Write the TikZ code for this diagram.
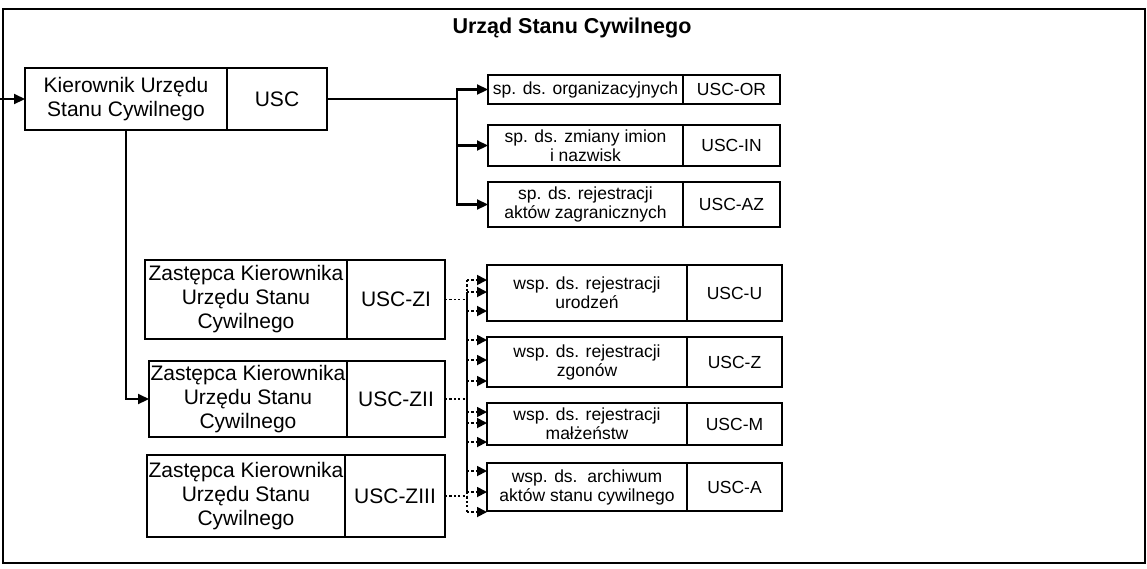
\documentclass[tikz,border=0pt]{standalone}
\usepackage{fontspec}
\setmainfont{Liberation Sans}
\usetikzlibrary{arrows.meta,calc}
\tikzset{
 box/.style={draw, line width=1.3pt, inner sep=0pt, outer sep=0pt, align=center},
 big/.style={font=\fontsize{21}{24}\selectfont},
 small/.style={font=\fontsize{17.5}{19}\selectfont},
 conn/.style={line width=2.2pt},
 sarr/.style={conn, -{Triangle[length=11pt,width=10pt]}},
 dconn/.style={line width=1.8pt, dash pattern=on 2.2pt off 2.2pt},
 darr/.style={dconn, -{Triangle[length=10pt,width=10pt]}},
}
\begin{document}
\begin{tikzpicture}[x=1pt,y=-1pt]
\useasboundingbox (0,0) rectangle (1147,568);
\node[draw, line width=1.4pt, minimum width=1142pt, minimum height=554pt, inner sep=0pt] (frame) at (574,286) {};
\node[font=\bfseries\fontsize{21.5}{24}\selectfont] (title) at (572,28) {Urząd Stanu Cywilnego};

% Kierownik
\node[box,big,minimum width=202pt,minimum height=62pt] (K1) at (126,99) {Kierownik Urzędu\\Stanu Cywilnego};
\node[box,big,minimum width=100pt,minimum height=62pt] (K2) at (277,99) {USC};

% sp boxes
\node[box,small,minimum width=195pt,minimum height=29pt] (OR1) at (585.5,89.5) {sp. ds. organizacyjnych};
\node[box,small,minimum width=97pt,minimum height=29pt] (OR2) at (731.5,89.5) {USC-OR};
\node[box,small,minimum width=195pt,minimum height=41pt] (IN1) at (585.5,145.5) {sp. ds. zmiany imion\\i nazwisk};
\node[box,small,minimum width=97pt,minimum height=41pt] (IN2) at (731.5,145.5) {USC-IN};
\node[box,small,minimum width=195pt,minimum height=45pt] (AZ1) at (585.5,204.5) {sp. ds. rejestracji\\aktów zagranicznych};
\node[box,small,minimum width=97pt,minimum height=45pt] (AZ2) at (731.5,204.5) {USC-AZ};

% Zastepcy
\node[box,big,minimum width=202pt,minimum height=79pt] (ZI1) at (246,299.5) {Zastępca Kierownika\\Urzędu Stanu\\Cywilnego};
\node[box,big,minimum width=98pt,minimum height=79pt] (ZI2) at (396,299.5) {USC-ZI};
\node[box,big,minimum width=198pt,minimum height=76pt] (ZII1) at (248,399) {Zastępca Kierownika\\Urzędu Stanu\\Cywilnego};
\node[box,big,minimum width=98pt,minimum height=76pt] (ZII2) at (396,399) {USC-ZII};
\node[box,big,minimum width=198pt,minimum height=82pt] (ZIII1) at (246,496) {Zastępca Kierownika\\Urzędu Stanu\\Cywilnego};
\node[box,big,minimum width=100pt,minimum height=82pt] (ZIII2) at (395,496) {USC-ZIII};

% wsp boxes
\node[box,small,minimum width=200pt,minimum height=56pt] (U1) at (587,293) {wsp. ds. rejestracji\\urodzeń};
\node[box,small,minimum width=95pt,minimum height=56pt] (U2) at (734.5,293) {USC-U};
\node[box,small,minimum width=200pt,minimum height=50pt] (Z1) at (587,362) {wsp. ds. rejestracji\\zgonów};
\node[box,small,minimum width=95pt,minimum height=50pt] (Z2) at (734.5,362) {USC-Z};
\node[box,small,minimum width=200pt,minimum height=42pt] (M1) at (587,424) {wsp. ds. rejestracji\\małżeństw};
\node[box,small,minimum width=95pt,minimum height=42pt] (M2) at (734.5,424) {USC-M};
\node[box,small,minimum width=200pt,minimum height=48pt] (A1) at (587,487) {wsp. ds.\ \ archiwum\\aktów stanu cywilnego};
\node[box,small,minimum width=95pt,minimum height=48pt] (A2) at (734.5,487) {USC-A};

% solid connectors
\coordinate (in) at (0,99);
\draw[sarr] (in) -- (K1.west);
\coordinate (b1) at (457,99);
\draw[conn] (K2.east) -- (b1);
\draw[sarr] (b1) |- (OR1.west);
\draw[sarr] (b1) |- (IN1.west);
\draw[sarr] (b1) |- (AZ1.west);
\draw[sarr] (K1.south) |- (ZII1.west);

% dotted bus
\coordinate (zt) at (467,280);
\coordinate (zs) at (467,292);
\coordinate (ze) at (467,492);
\coordinate (zb) at (467,512);
\draw[dconn] (ZI2.east) -- (ZI2.east -| zs);
\draw[dconn] (ZII2.east) -- (ZII2.east -| zs);
\draw[dconn] (ZIII2.east) -- (ZIII2.east -| zs);
\draw[line width=1.8pt] (zs) -- (ze);
\draw[dconn] (zt) -- (zs);
\draw[dconn] (ze) -- (zb);
\foreach \y/\n in {280/U1,292/U1,311/U1,340/Z1,360/Z1,381/Z1,412/M1,423/M1,442/M1,471/A1,492/A1,512/A1}{
  \coordinate (t) at (467,\y);
  \draw[darr] (t) -- (t -| \n.west);
}
\end{tikzpicture}
\end{document}
